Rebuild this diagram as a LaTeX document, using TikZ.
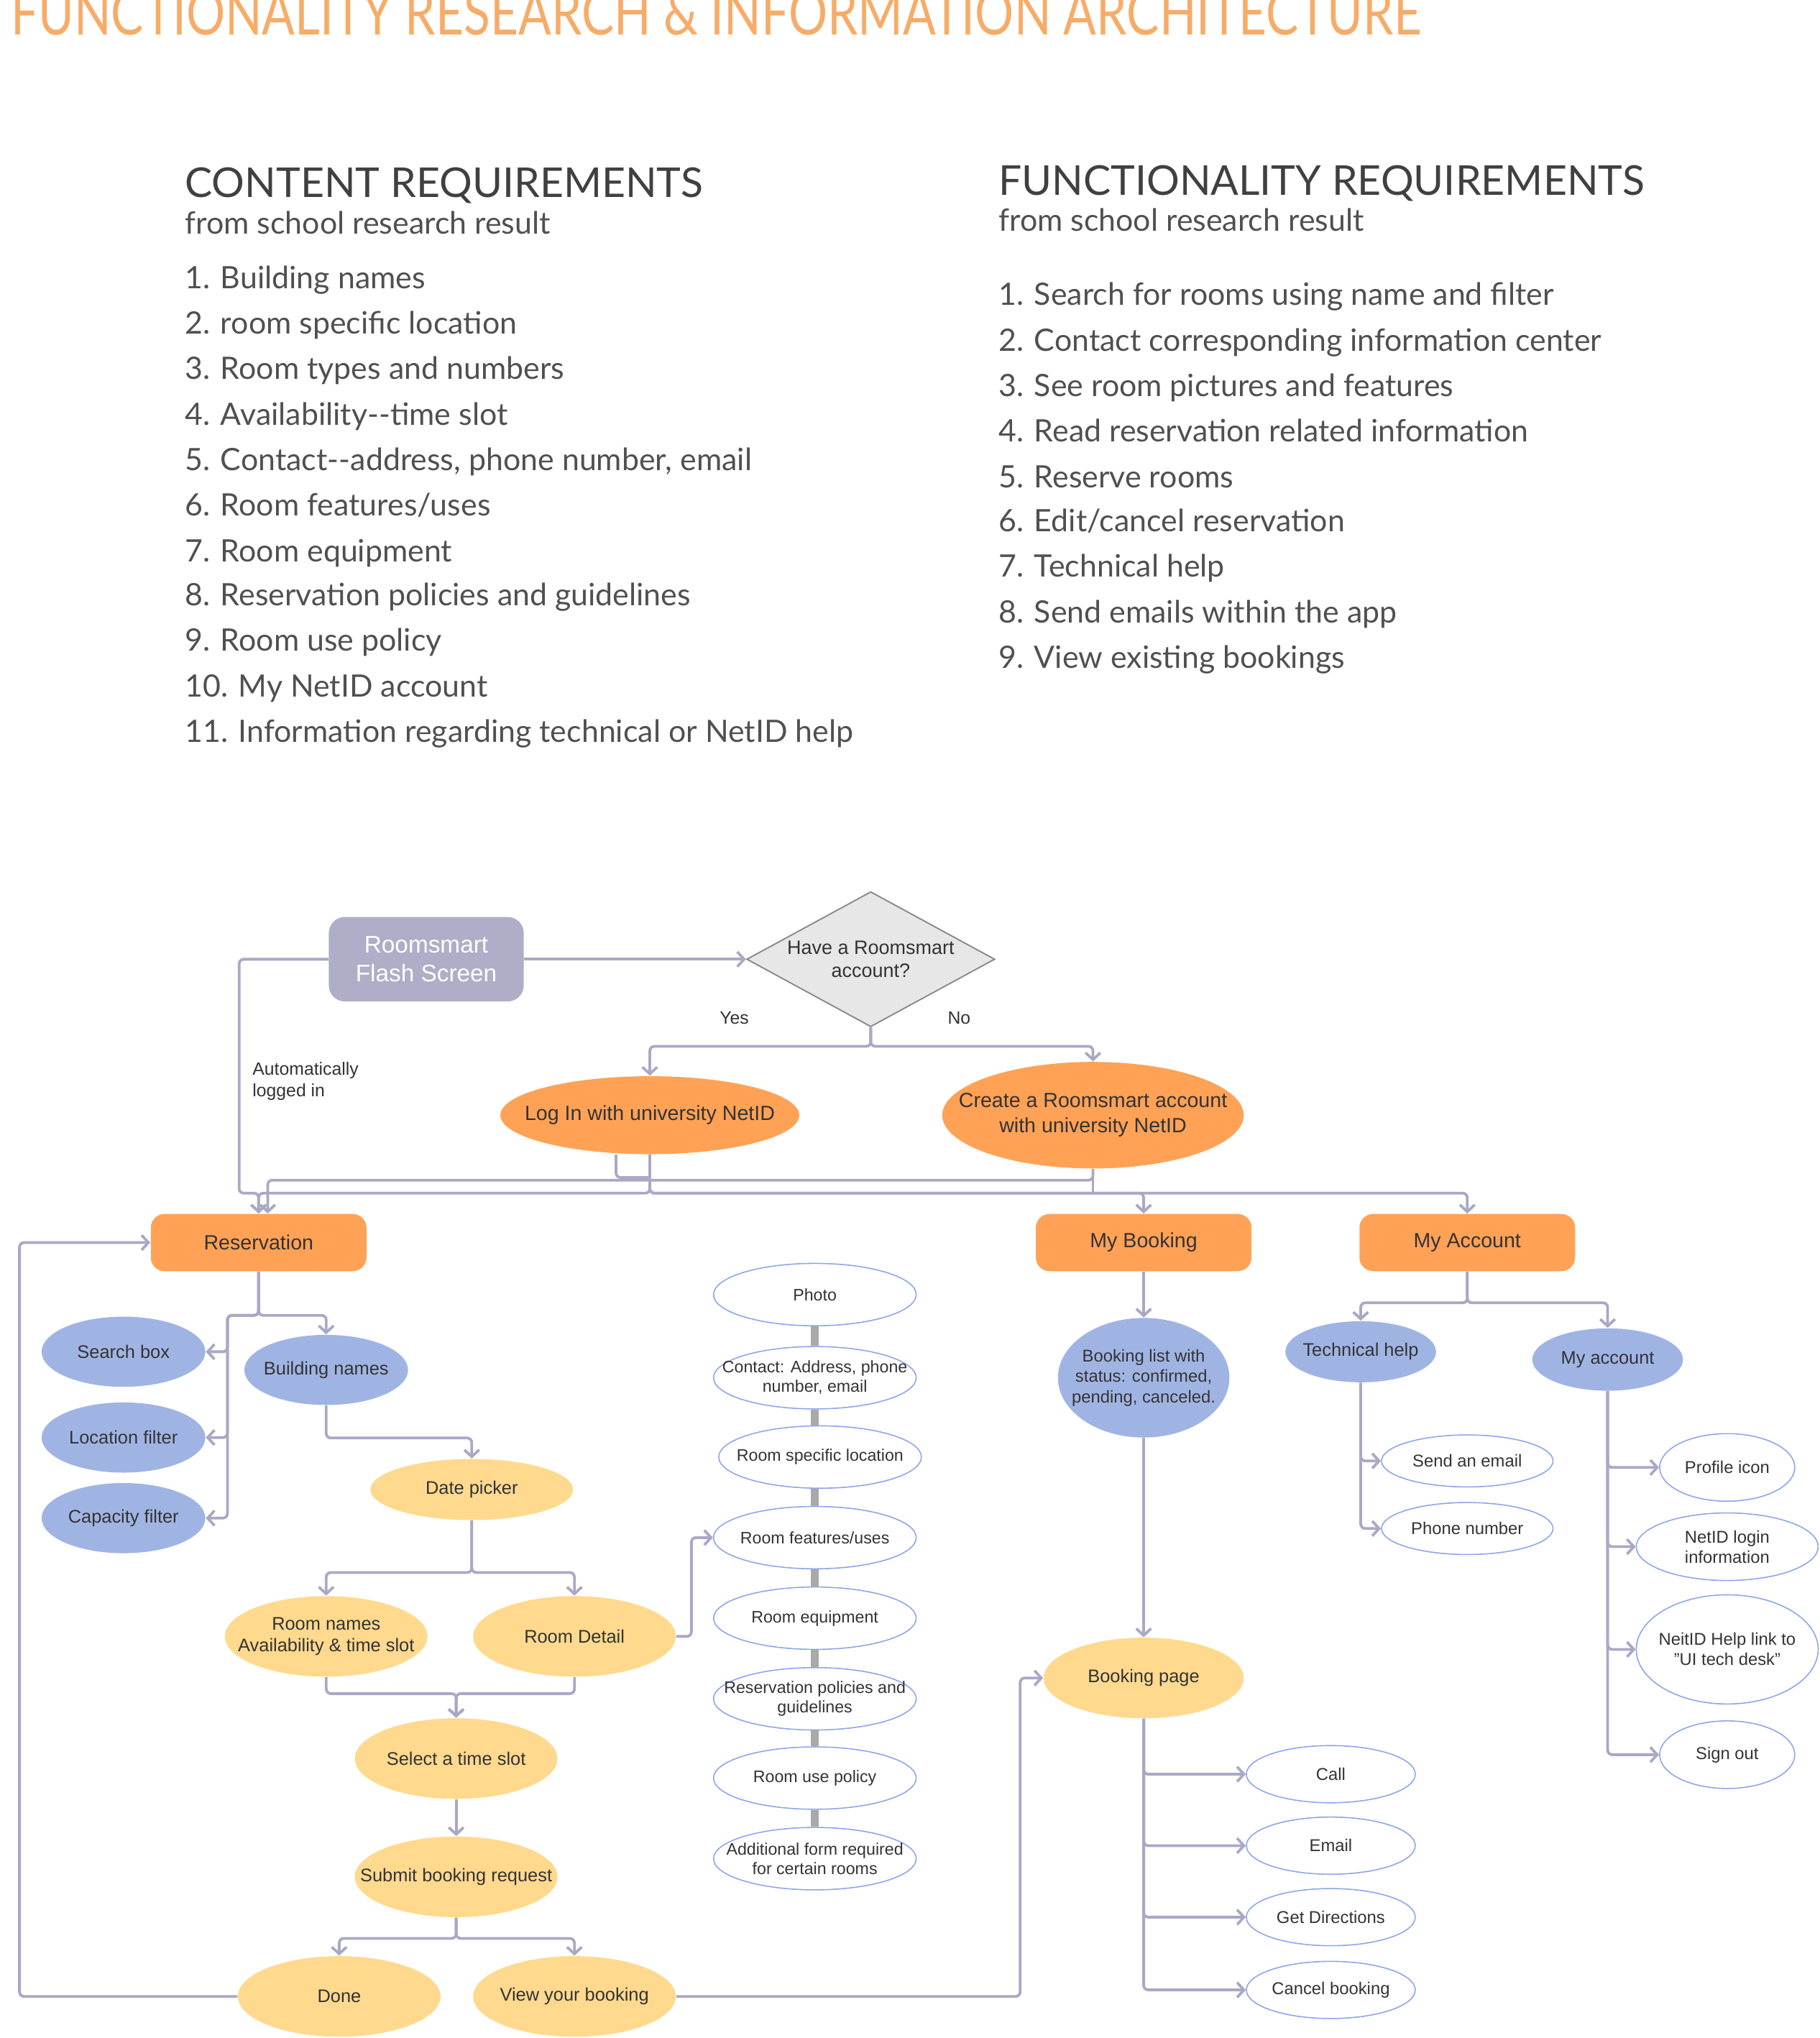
\documentclass[tikz,border=0pt]{standalone}
\usepackage{fontspec}
\setmainfont{Liberation Sans}
\newfontfamily\headfont{Lato}
\usetikzlibrary{shapes.geometric, arrows.meta, positioning}
\definecolor{titleC}{HTML}{F6AC68}
\definecolor{headC}{HTML}{404040}
\definecolor{itemC}{HTML}{505050}
\definecolor{txtC}{HTML}{333333}
\definecolor{orngC}{HTML}{FFA256}
\definecolor{bluC}{HTML}{A0B4E4}
\definecolor{yelC}{HTML}{FFD98E}
\definecolor{flashC}{HTML}{B0ADC8}
\definecolor{lineC}{HTML}{ABA8C6}
\definecolor{edgeC}{HTML}{8EA6EA}
\definecolor{barC}{HTML}{A9A9A9}
\definecolor{askC}{HTML}{E7E7E7}
\definecolor{askE}{HTML}{8A8A8A}

\begin{document}
\begin{tikzpicture}[x=0.02cm, y=-0.02cm,
	head/.style={anchor=base west, inner sep=0pt, text=headC, font=\headfont\fontsize{18}{20}\selectfont},
	sub/.style={anchor=base west, inner sep=0pt, text=itemC, font=\headfont\fontsize{13.5}{16}\selectfont},
	item/.style={anchor=base west, inner sep=0pt, text=itemC, font=\headfont\fontsize{13.5}{16}\selectfont},
	line/.style={draw=lineC, line width=1.2pt, rounded corners=2pt},
	conn/.style={line, -{Straight Barb[length=3pt, width=6.5pt]}},
	bar/.style={draw=barC, line width=3.4pt},
	box/.style={rectangle, rounded corners=6pt, fill=orngC, text=txtC, minimum width=3.32cm, minimum height=0.88cm, font=\fontsize{9}{11}\selectfont},
	flash/.style={rectangle, rounded corners=7pt, fill=flashC, text=white, align=center, minimum width=3cm, minimum height=1.3cm, font=\fontsize{10.5}{12.5}\selectfont},
	ask/.style={diamond, aspect=1.84, fill=askC, draw=askE, line width=0.6pt, inner xsep=-0.4cm, inner ysep=0pt, minimum width=3.82cm, minimum height=2.08cm, align=center, text=txtC, font=\fontsize{8.5}{10}\selectfont},
	lbl/.style={inner sep=0pt, text=txtC, font=\fontsize{7.8}{9.5}\selectfont},
	oval/.style={ellipse, inner xsep=-0.8cm, inner ysep=0pt, align=center, text=txtC, font=\fontsize{8}{9.5}\selectfont},
	hub/.style={oval, fill=orngC, font=\fontsize{9}{11}\selectfont},
	blu/.style={oval, fill=bluC, minimum width=2.52cm, minimum height=1.08cm},
	yel/.style={oval, fill=yelC, minimum width=3.12cm, minimum height=1.24cm},
	wht/.style={oval, draw=edgeC, line width=0.5pt, fill=white, font=\fontsize{7.5}{8.8}\selectfont},
	mid/.style={wht, minimum width=3.12cm, minimum height=0.96cm, font=\fontsize{7.3}{8.5}\selectfont},
	act/.style={wht, minimum width=2.6cm, minimum height=0.88cm}]
	\useasboundingbox (0,0) rectangle (1400,1568);

	\node[anchor=base west, inner sep=0pt, text=titleC, font=\headfont\fontsize{21.3}{24}\selectfont] (title) at (8,27) {\scalebox{1}[1.27]{FUNCTIONALITY RESEARCH \& INFORMATION ARCHITECTURE}};

	\node[head] (chead) at (142,152) {CONTENT REQUIREMENTS};
	\node[sub] (csub) at (142,180) {from school research result};
	\node[item] (c1) at (142,222) {1. Building names};
	\node[item] (c2) at (142,257) {2. room specific location};
	\node[item] (c3) at (142,292) {3. Room types and numbers};
	\node[item] (c4) at (142,327) {4. Availability-\kern0pt-time slot};
	\node[item] (c5) at (142,362) {5. Contact-\kern0pt-address, phone number, email};
	\node[item] (c6) at (142,397) {6. Room features/uses};
	\node[item] (c7) at (142,432) {7. Room equipment};
	\node[item] (c8) at (142,466) {8. Reservation policies and guidelines};
	\node[item] (c9) at (142,501) {9. Room use policy};
	\node[item] (c10) at (142,536) {10. My NetID account};
	\node[item] (c11) at (142,571) {11. Information regarding technical or NetID help};

	\node[head] (fhead) at (768,150) {FUNCTIONALITY REQUIREMENTS};
	\node[sub] (fsub) at (768,178) {from school research result};
	\node[item] (f1) at (768,235) {1. Search for rooms using name and filter};
	\node[item] (f2) at (768,270) {2. Contact corresponding information center};
	\node[item] (f3) at (768,305) {3. See room pictures and features};
	\node[item] (f4) at (768,340) {4. Read reservation related information};
	\node[item] (f5) at (768,375) {5. Reserve rooms};
	\node[item] (f6) at (768,409) {6. Edit/cancel reservation};
	\node[item] (f7) at (768,444) {7. Technical help};
	\node[item] (f8) at (768,479) {8. Send emails within the app};
	\node[item] (f9) at (768,514) {9. View existing bookings};

	\node[flash] (flash) at (328,738) {Roomsmart\\Flash Screen};
	\node[ask] (ask) at (670,738) {Have a Roomsmart\\account?};
	\node[lbl] (yes) at (565,783) {Yes};
	\node[lbl] (no) at (738,783) {No};
	\node[lbl, align=left, anchor=north west] (auto) at (194,817) {Automatically\\logged in};
	\node[hub, minimum width=4.6cm, minimum height=1.2cm] (login) at (500,858) {Log In with university NetID};
	\node[hub, minimum width=4.64cm, minimum height=1.64cm] (create) at (841,858) {Create a Roomsmart account\\with university NetID};

	\node[box] (res) at (199,956) {Reservation};
	\node[box] (mybook) at (880,956) {My Booking};
	\node[box] (myacc) at (1129,956) {My Account};

	\draw[conn] (flash.east) -- (ask.west);
	\draw[conn] (ask.south) -- (670,805) -| (login.north);
	\draw[conn] (ask.south) -- (670,805) -| (create.north);
	\draw[conn] (flash.west) -| (184,918) -| (res.north);
	\draw[line] ([xshift=-0.52cm]login.south) |- (500,906);
	\draw[conn] (login.south) -- (500,918) -| (res.north);
	\draw[conn] (login.south) -- (500,918) -| (mybook.north);
	\draw[conn] (login.south) -- (500,918) -| (myacc.north);
	\draw[conn] (create.south) -- (841,908) -| ([xshift=0.14cm]res.north);
	\draw[line] (create.south) -- (841,918);

	\node[blu] (search) at (95,1040) {Search box};
	\node[blu] (loc) at (95,1106) {Location filter};
	\node[blu] (cap) at (95,1168) {Capacity filter};
	\node[blu] (bld) at (251,1054) {Building names};
	\node[yel, minimum height=0.94cm] (date) at (363,1146) {Date picker};
	\node[yel] (rname) at (251,1259) {Room names\\Availability \& time slot};
	\node[yel] (rdet) at (442,1259) {Room Detail};
	\node[yel] (slot) at (351,1353) {Select a time slot};
	\node[yel] (submit) at (351,1444) {Submit booking request};
	\node[yel] (done) at (261,1536) {Done};
	\node[yel] (view) at (442,1536) {View your booking};

	\draw[conn] (res.south) |- (175,1012) |- (search.east);
	\draw[conn] (res.south) |- (175,1012) |- (loc.east);
	\draw[conn] (res.south) |- (175,1012) |- (cap.east);
	\draw[conn] (res.south) -- (199,1012) -| (bld.north);
	\draw[conn] (bld.south) -- ++(0,25) -| (date.north);
	\draw[conn] (date.south) -- ++(0,40) -| (rname.north);
	\draw[conn] (date.south) -- ++(0,40) -| (rdet.north);
	\draw[conn] (rname.south) |- (351,1303) -- (slot.north);
	\draw[conn] (rdet.south) |- (351,1303) -- (slot.north);
	\draw[conn] (slot.south) -- (submit.north);
	\draw[conn] (submit.south) -- ++(0,16) -| (done.north);
	\draw[conn] (submit.south) -- ++(0,16) -| (view.north);
	\draw[conn] (done.west) -| (15,956) -- (res.west);

	\node[mid] (photo) at (627,996) {Photo};
	\node[mid] (contact) at (627,1060) {Contact: Address, phone\\number, email};
	\node[mid] (rsl) at (631,1121) {Room specific location};
	\node[mid] (feat) at (627,1183) {Room features/uses};
	\node[mid] (equip) at (627,1245) {Room equipment};
	\node[mid] (policy) at (627,1307) {Reservation policies and\\guidelines};
	\node[mid] (usepol) at (627,1368) {Room use policy};
	\node[mid] (addform) at (627,1430) {Additional form required\\for certain rooms};
	\draw[bar] (photo.south) -- (contact.north);
	\draw[bar] (contact.south) -- (contact.south |- rsl.north);
	\draw[bar] (feat.north |- rsl.south) -- (feat.north);
	\draw[bar] (feat.south) -- (equip.north);
	\draw[bar] (equip.south) -- (policy.north);
	\draw[bar] (policy.south) -- (usepol.north);
	\draw[bar] (usepol.south) -- (addform.north);
	\draw[conn] (rdet.east) -| (532,1183) -- (feat.west);

	\node[blu, minimum width=2.64cm, minimum height=1.84cm, font=\fontsize{7.5}{9}\selectfont] (blist) at (880,1060) {Booking list with\\status: confirmed,\\pending, canceled.};
	\node[yel, minimum width=3.08cm] (bkpage) at (880,1291) {Booking page};
	\node[act] (call) at (1024,1365) {Call};
	\node[act] (email) at (1024,1420) {Email};
	\node[act] (dirs) at (1024,1475) {Get Directions};
	\node[act] (cancel) at (1024,1531) {Cancel booking};
	\draw[conn] (mybook.south) -- (blist.north);
	\draw[conn] (blist.south) -- (bkpage.north);
	\draw[conn] (view.east) -| (785,1291) -- (bkpage.west);
	\draw[conn] (bkpage.south) |- (call.west);
	\draw[conn] (bkpage.south) |- (email.west);
	\draw[conn] (bkpage.south) |- (dirs.west);
	\draw[conn] (bkpage.south) |- (cancel.west);

	\node[blu, minimum width=2.32cm, minimum height=0.94cm] (tech) at (1047,1040) {Technical help};
	\node[blu, minimum width=2.32cm, minimum height=0.96cm] (acct) at (1237,1046) {My account};
	\node[wht, minimum width=2.64cm, minimum height=0.8cm] (mail) at (1129,1124) {Send an email};
	\node[wht, minimum width=2.64cm, minimum height=0.8cm] (phone) at (1129,1176) {Phone number};
	\node[wht, minimum width=2.08cm, minimum height=1.04cm] (prof) at (1329,1129) {Profile icon};
	\node[wht, minimum width=2.8cm, minimum height=1.04cm] (netid) at (1329,1190) {NetID login\\information};
	\node[wht, minimum width=2.8cm, minimum height=1.68cm] (help) at (1329,1269) {NeitID Help link to\\"UI tech desk"};
	\node[wht, minimum width=2.08cm, minimum height=1.04cm] (signout) at (1329,1350) {Sign out};
	\draw[conn] (myacc.south) -- ++(0,24) -| (tech.north);
	\draw[conn] (myacc.south) -- ++(0,24) -| (acct.north);
	\draw[conn] (tech.south) |- (mail.west);
	\draw[conn] (tech.south) |- (phone.west);
	\draw[conn] (acct.south) |- (prof.west);
	\draw[conn] (acct.south) |- (netid.west);
	\draw[conn] (acct.south) |- (help.west);
	\draw[conn] (acct.south) |- (signout.west);
\end{tikzpicture}
\end{document}
